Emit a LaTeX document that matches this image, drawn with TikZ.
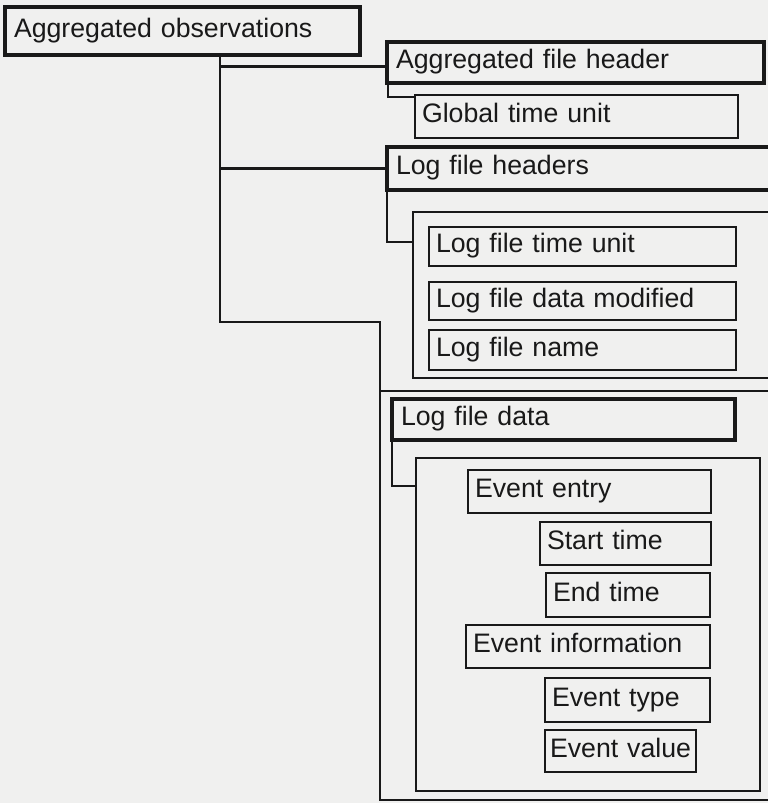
\documentclass[tikz,border=0pt]{standalone}
\usepackage{fontspec}
\setmainfont{Liberation Sans}
\usetikzlibrary{calc}
\definecolor{paper}{RGB}{240,240,239}
\definecolor{ink}{RGB}{25,25,25}

\begin{document}
\begin{tikzpicture}[x=1pt,y=-1pt,
  box/.style={draw=ink, line width=2.4pt, rectangle, anchor=north west,
    outer sep=0pt, inner xsep=7pt, inner ysep=0pt, align=left, text=ink,
    font=\fontsize{26.7}{30}\selectfont, text height=19pt, text depth=7pt},
  keybox/.style={box, line width=3.8pt, inner xsep=9pt},
  frame/.style={draw=ink, line width=2.4pt, rectangle, anchor=north west,
    outer sep=0pt, inner sep=0pt},
  link/.style={draw=ink, line width=2.4pt},
]
\useasboundingbox (0,0) rectangle (768,803);
\clip (0,0) rectangle (768,803);
\fill[paper] (0,0) rectangle (768,803);

% root
\node[keybox, minimum width=355, minimum height=48, text width=337] (obs) at (5,7) {Aggregated observations};

% aggregated file header
\node[keybox, minimum width=377, minimum height=41, text width=359] (afh) at (387,42) {Aggregated file header};
\node[box, minimum width=323, minimum height=43, text width=309] (gtu) at (415,95) {Global time unit};

% log file headers
\node[keybox, minimum width=388, minimum height=43, text width=370] (lfh) at (387,147) {Log file headers};
\node[frame, minimum width=362, minimum height=166] (lhc) at (413,212) {};
\node[box, minimum width=307, minimum height=39, text width=293] (ltu) at (429,227) {Log file time unit};
\node[box, minimum width=307, minimum height=38, text width=293] (ldm) at (429,282) {Log file data modified};
\node[box, minimum width=307, minimum height=40, text width=293] (lfn) at (429,330) {Log file name};

% log file data
\node[frame, minimum width=395, minimum height=409] (ldc) at (380,391) {};
\node[keybox, minimum width=343, minimum height=41, text width=325] (lfd) at (392,399) {Log file data};
\node[frame, minimum width=344, minimum height=333] (evc) at (416,458) {};
\node[box, minimum width=243, minimum height=43, text width=229] (ee) at (468,470) {Event entry};
\node[box, minimum width=171, minimum height=43, text width=157] (st) at (540,522) {Start time};
\node[box, minimum width=164, minimum height=44, text width=150] (et) at (546,573) {End time};
\node[box, minimum width=244, minimum height=43, text width=230] (ei) at (466,625) {Event information};
\node[box, minimum width=165, minimum height=44, text width=151] (ety) at (545,678) {Event type};
\node[box, inner xsep=5pt, minimum width=151, minimum height=42, text width=141] (ev) at (545,730) {\mbox{Event value}};

% tree connectors
\coordinate (tap) at ($(obs.south west)+(215,0)$);
\coordinate (bend) at (380,322);
\draw[link] (tap) |- ([yshift=-4pt]afh.west);
\draw[link] (tap) |- (lfh.west);
\draw[link] (tap) |- (bend) -- (ldc.north west);
\draw[link] ([xshift=1pt]afh.south west) |- ([yshift=-2pt]gtu.north west);
\draw[link] (lfh.south west) |- ([yshift=-30pt]lhc.north west);
\draw[link] (lfd.south west) |- ([yshift=-28pt]evc.north west);
\end{tikzpicture}
\end{document}
